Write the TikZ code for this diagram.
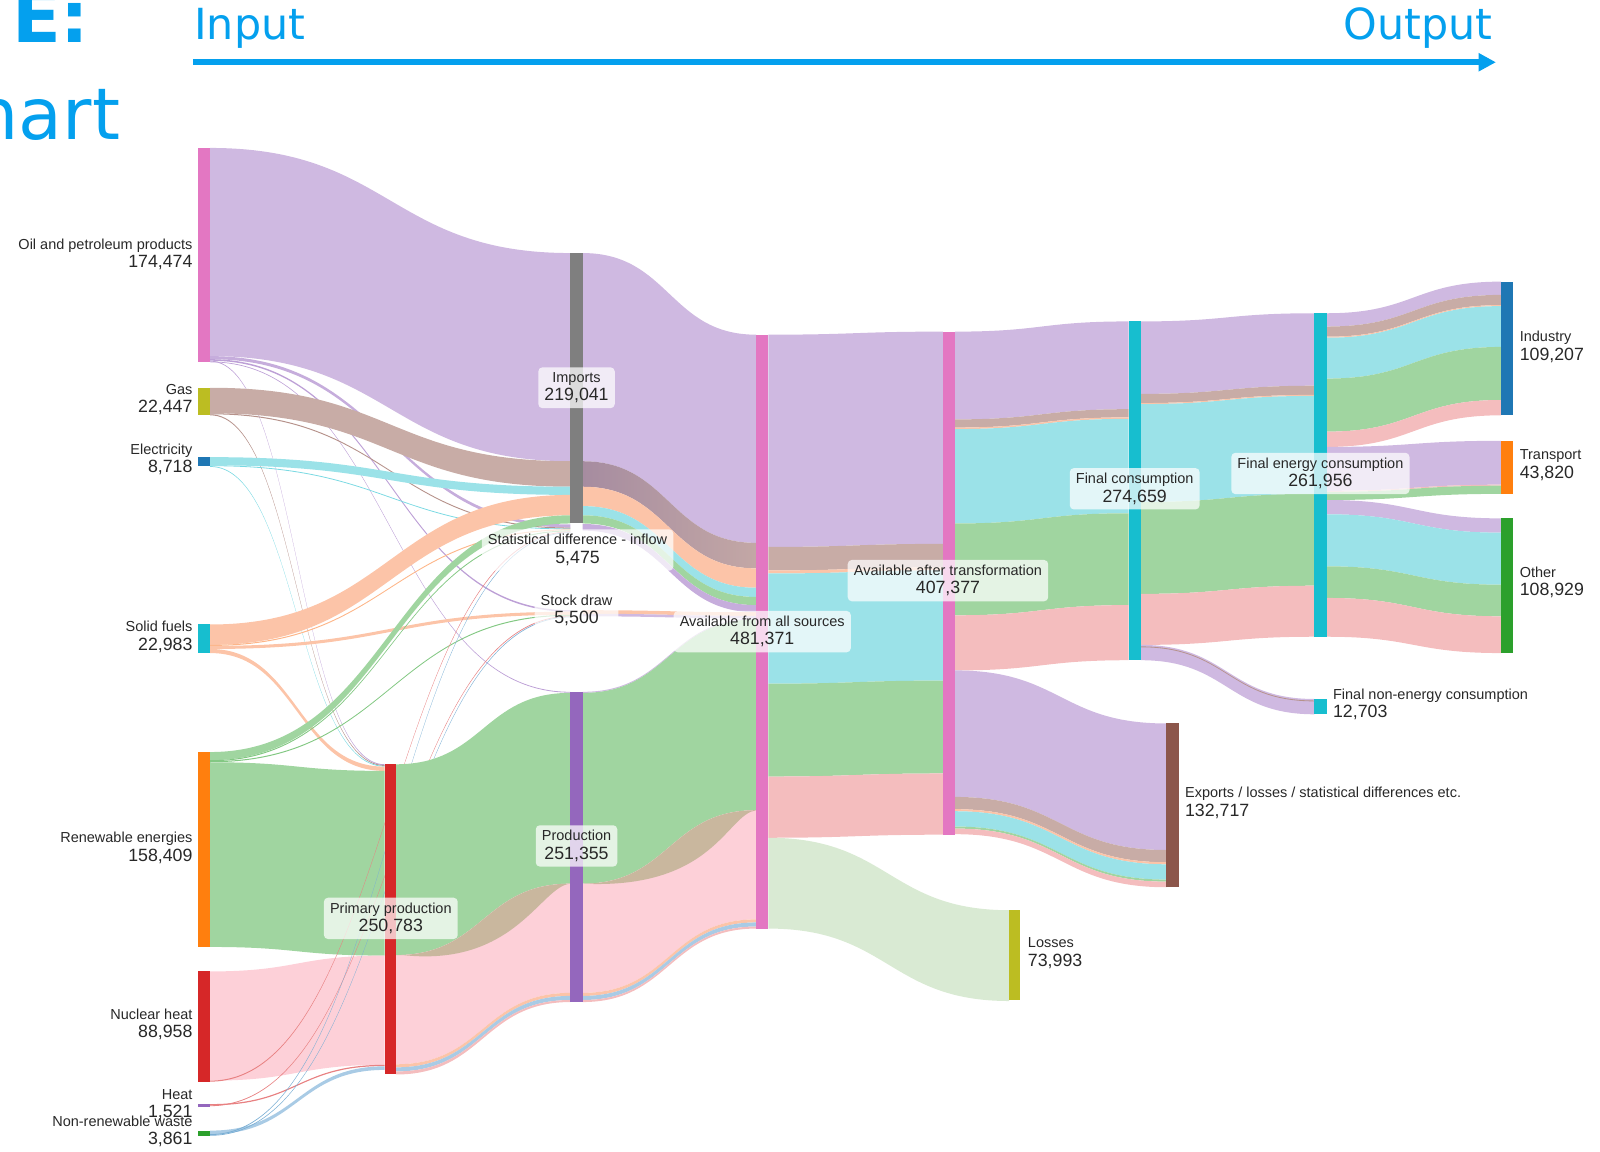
\documentclass[tikz,border=0pt]{standalone}
\usepackage{fontspec}
\setmainfont{Liberation Sans}
\newfontfamily\hdrfont{DejaVu Sans}
\usetikzlibrary{arrows.meta}
\definecolor{cOil}{RGB}{207,185,225}
\definecolor{cGas}{RGB}{200,172,166}
\definecolor{cElec}{RGB}{155,226,232}
\definecolor{cSolid}{RGB}{252,196,168}
\definecolor{cRen}{RGB}{160,213,160}
\definecolor{cNuc}{RGB}{253,208,216}
\definecolor{cHeat}{RGB}{244,189,190}
\definecolor{cWaste}{RGB}{169,203,229}
\definecolor{cLoss}{RGB}{217,234,211}
\definecolor{cTan}{RGB}{201,183,158}
\definecolor{cMauve}{RGB}{166,140,160}
\definecolor{nPink}{HTML}{E377C2}
\definecolor{nOlive}{HTML}{BCBD22}
\definecolor{nBlue}{HTML}{1F77B4}
\definecolor{nCyan}{HTML}{17BECF}
\definecolor{nOrange}{HTML}{FF7F0E}
\definecolor{nRed}{HTML}{D62728}
\definecolor{nPurple}{HTML}{9467BD}
\definecolor{nGreen}{HTML}{2CA02C}
\definecolor{nGray}{HTML}{7F7F7F}
\definecolor{nBrown}{HTML}{8C564B}
\definecolor{hdr}{RGB}{4,160,238}
\definecolor{txt}{RGB}{40,40,40}
\colorlet{tOil}{cOil!70!nPurple}
\colorlet{tGas}{cGas!70!nBrown}
\colorlet{tElec}{cElec!75!nCyan}
\colorlet{tSolid}{cSolid!80!nOrange}
\colorlet{tRen}{cRen!75!nGreen}
\colorlet{tHeat}{cHeat!60!nRed}
\colorlet{tWaste}{cWaste!65!nBlue}
% link: x1, y1top, y1bot, x2, y2top, y2bot, colour
\newcommand\lnkpath[6]{(#1,#2) .. controls ({(#1+#4)/2},#2) and ({(#1+#4)/2},#5) .. (#4,#5) -- (#4,#6) .. controls ({(#1+#4)/2},#6) and ({(#1+#4)/2},#3) .. (#1,#3) -- cycle}
\newcommand\lnk[7]{\fill[#7] \lnkpath{#1}{#2}{#3}{#4}{#5}{#6};}
\newcommand\nv[1]{{\fontsize{8.7}{9}\selectfont #1}}
\begin{document}
\begin{tikzpicture}[x=0.5pt,y=-0.5pt,
  lab/.style={inner sep=0pt, font=\fontsize{7.1}{9}\selectfont, text=txt},
  llab/.style={lab, anchor=east, align=right},
  rlab/.style={lab, anchor=west, align=left},
  boxl/.style={lab, align=center, fill=white, fill opacity=0.72, text opacity=1, rounded corners=2pt, inner xsep=3pt, inner ysep=2.5pt},
  bigt/.style={inner sep=0pt, text=hdr, font=\hdrfont\fontsize{35}{40}\selectfont},
  hdrt/.style={inner sep=0pt, text=hdr, font=\hdrfont\fontsize{21}{24}\selectfont}]
\path[use as bounding box] (0,0) rectangle (1568,1128);

% ---------- title fragments and header ----------
\begin{scope}
\clip (0,0) rectangle (1568,1128);
\node[bigt, anchor=base east, font=\hdrfont\bfseries\fontsize{35}{40}\selectfont] (ttl1) at (88,42) {E:};
\node[bigt, anchor=base east] (ttl2) at (118,137) {hart};
\end{scope}
\node[hdrt, anchor=base west] (inp) at (190,39) {Input};
\node[hdrt, anchor=base east] (outp) at (1463,39) {Output};
\coordinate (arrS) at (189,61);
\coordinate (arrE) at (1466,61);
\draw[hdr, line width=2.9pt, -{Triangle[length=8.5pt,width=8.5pt]}] (arrS) -- (arrE);

% ---------- column 1 -> column 2/3 ----------
% oil
\lnk{206}{145}{349}{559}{248}{452}{cOil}
\lnk{206}{349}{352}{559}{514}{517}{cOil!85!nPurple}
\lnk{206}{352}{353.5}{559}{598}{599.5}{tOil}
\lnk{206}{353.5}{354.3}{377}{749}{749.8}{tOil}
\lnk{206}{354.3}{355}{559}{678}{678.8}{tOil}
% gas
\lnk{206}{380}{405}{559}{452}{477}{cGas}
\lnk{206}{405}{406}{559}{517}{518}{tGas}
\lnk{206}{406}{407}{377}{749.8}{750.6}{tGas}
% electricity
\lnk{206}{448}{456}{559}{477}{485}{cElec}
\lnk{206}{456}{456.8}{559}{518}{518.8}{tElec}
\lnk{206}{456.8}{457.5}{377}{750.6}{751.3}{tElec}
% solid fuels
\lnk{206}{612}{632}{559}{485}{505}{cSolid}
\lnk{206}{632}{633}{559}{518.8}{519.8}{tSolid}
\lnk{206}{633}{636}{559}{599.5}{602.5}{cSolid}
\lnk{206}{636}{640}{377}{751.3}{755.5}{cSolid}
% renewables
\lnk{206}{737}{745}{559}{505}{513}{cRen}
\lnk{206}{745}{746}{559}{519.8}{520.8}{tRen}
\lnk{206}{746}{747}{559}{602.5}{603.5}{tRen}
\lnk{206}{747}{928}{377}{755.5}{936.5}{cRen}
% nuclear
\lnk{206}{952}{1059}{377}{936.5}{1043.5}{cNuc}
\lnk{206}{1059}{1060}{559}{520.8}{521.6}{tHeat}
% heat
\lnk{206}{1082}{1083.2}{377}{1043.5}{1044.7}{tHeat}
\lnk{206}{1083.2}{1084}{559}{603.5}{604.3}{tHeat}
% waste
\lnk{206}{1108}{1111.5}{377}{1045}{1048.5}{cWaste}
\lnk{206}{1111.5}{1112.3}{559}{521.6}{522.3}{tWaste}
\lnk{206}{1112.3}{1113}{559}{604.3}{605}{tWaste}

% ---------- primary production -> production ----------
\lnk{388}{749}{936}{559}{679}{866}{cRen}
\lnk{388}{936}{1043}{559}{866}{973}{cNuc}
\lnk{388}{1043}{1046}{559}{973}{976}{cSolid}
\lnk{388}{1046}{1050}{559}{976}{980}{cWaste}
\lnk{388}{1050}{1053}{559}{980}{982}{cHeat}
\fill[cTan] (388,936) .. controls (473.5,936) and (473.5,866) .. (559,866)
  .. controls (530,868) and (505,948) .. (395,936) -- cycle;

% ---------- column 3 -> available from all sources ----------
\lnk{571}{248}{452}{741}{328}{532}{cOil}
\shade[left color=cMauve, right color=cGas!85!cMauve] \lnkpath{571}{452}{477}{741}{532}{557};
\lnk{571}{477}{496}{741}{557}{576}{cSolid}
\lnk{571}{496}{505}{741}{576}{585}{cElec}
\lnk{571}{505}{513}{741}{585}{593}{cRen}
\lnk{571}{513.5}{520}{741}{593}{600}{cOil!85!nPurple}
\lnk{571}{598}{601.5}{741}{600}{603.5}{cSolid}
\lnk{571}{601.5}{604}{741}{603.5}{606}{cOil}
\lnk{571}{678}{679}{741}{606}{607}{cOil}
\lnk{571}{679}{866}{741}{607}{794}{cRen}
\lnk{571}{866}{973}{741}{794}{901}{cNuc}
\lnk{571}{973}{976}{741}{901}{904}{cSolid}
\lnk{571}{976}{980}{741}{904}{908}{cWaste}
\lnk{571}{980}{982}{741}{908}{910}{cHeat}
\fill[cTan] (571,866) .. controls (656,866) and (656,794) .. (741,794)
  .. controls (712,798) and (700,872) .. (571,866) -- cycle;

% ---------- available -> after transformation / losses ----------
\lnk{753}{328}{536}{924}{325}{533}{cOil}
\lnk{753}{536}{559}{924}{533}{556}{cGas}
\lnk{753}{559}{562}{924}{556}{559}{cSolid}
\lnk{753}{562}{670}{924}{559}{667}{cElec}
\lnk{753}{670}{761}{924}{667}{758}{cRen}
\lnk{753}{761}{821}{924}{758}{818}{cHeat}
\lnk{753}{821}{910}{989}{892}{981}{cLoss}

% ---------- after transformation -> final consumption / exports ----------
\lnk{936}{325}{411}{1106}{315}{401}{cOil}
\lnk{936}{411}{419}{1106}{401}{409}{cGas}
\lnk{936}{419}{420.5}{1106}{409}{410.5}{cSolid}
\lnk{936}{420.5}{513}{1106}{410.5}{503}{cElec}
\lnk{936}{513}{603}{1106}{503}{593}{cRen}
\lnk{936}{603}{657}{1106}{593}{647}{cHeat}
\lnk{936}{657}{781}{1143}{709}{833}{cOil}
\lnk{936}{781}{793}{1143}{833}{845}{cGas}
\lnk{936}{793}{795}{1143}{845}{847}{cSolid}
\lnk{936}{795}{810}{1143}{847}{862}{cElec}
\lnk{936}{810}{812}{1143}{862}{864}{cRen}
\lnk{936}{812}{817.5}{1143}{864}{869.5}{cHeat}

% ---------- final consumption -> final energy / non-energy ----------
\lnk{1118}{315}{386}{1288}{307}{378}{cOil}
\lnk{1118}{386}{395}{1288}{378}{387}{cGas}
\lnk{1118}{395}{396}{1288}{387}{388}{cSolid}
\lnk{1118}{396}{492}{1288}{388}{484}{cElec}
\lnk{1118}{492}{582}{1288}{484}{574}{cRen}
\lnk{1118}{582}{632}{1288}{574}{624}{cHeat}
\lnk{1118}{632}{647}{1288}{685}{700}{cOil}
\lnk{1118}{633.5}{634.3}{1288}{686.5}{687.3}{tGas}

% ---------- final energy -> sectors ----------
\lnk{1300}{307}{320}{1471}{276}{289}{cOil}
\lnk{1300}{320}{330}{1471}{289}{299}{cGas}
\lnk{1300}{330}{331}{1471}{299}{300}{cSolid}
\lnk{1300}{331}{371}{1471}{300}{340}{cElec}
\lnk{1300}{371}{423}{1471}{340}{392}{cRen}
\lnk{1300}{423}{438}{1471}{392}{407}{cHeat}
\lnk{1300}{438}{481}{1471}{432}{475}{cOil}
\lnk{1300}{481}{482}{1471}{475}{476}{cHeat}
\lnk{1300}{482}{490}{1471}{476}{484}{cRen}
\lnk{1300}{490}{504}{1471}{508}{522}{cOil}
\lnk{1300}{504}{555}{1471}{522}{573}{cElec}
\lnk{1300}{555}{586}{1471}{573}{604}{cRen}
\lnk{1300}{586}{624}{1471}{604}{640}{cHeat}

% ---------- node bars ----------
\fill[nPink]   (194,145) rectangle (206,355);
\fill[nOlive]  (194,380) rectangle (206,407);
\fill[nBlue]   (194,448) rectangle (206,457);
\fill[nCyan]   (194,612) rectangle (206,640);
\fill[nOrange] (194,737) rectangle (206,928);
\fill[nRed]    (194,952) rectangle (206,1060);
\fill[nPurple] (194,1082) rectangle (206,1084.5);
\fill[nGreen]  (194,1108) rectangle (206,1113);
\fill[nRed]    (377,749) rectangle (388,1053);
\fill[nGray]   (559,248) rectangle (571,513);
\fill[nPurple] (559,678) rectangle (571,982);
\fill[nPink]   (741,328) rectangle (753,910);
\fill[nPink]   (924,325) rectangle (936,818);
\fill[nOlive]  (989,892) rectangle (1000,980);
\fill[nCyan]   (1106,315) rectangle (1118,647);
\fill[nBrown]  (1143,709) rectangle (1155,869);
\fill[nCyan]   (1288,307) rectangle (1300,624);
\fill[nCyan]   (1288,685) rectangle (1300,700);
\fill[nBlue]   (1471,276) rectangle (1483,407);
\fill[nOrange] (1471,432) rectangle (1483,484);
\fill[nGreen]  (1471,508) rectangle (1483,640);

% ---------- labels ----------
\node[llab] (Loil) at (189,249) {Oil and petroleum products\\\nv{174,474}};
\node[llab] (Lgas) at (189,391.5) {Gas\\\nv{22,447}};
\node[llab] (Lele) at (189,450.5) {Electricity\\\nv{8,718}};
\node[llab] (Lsol) at (189,624) {Solid fuels\\\nv{22,983}};
\node[llab] (Lren) at (189,831) {Renewable energies\\\nv{158,409}};
\node[llab] (Lnuc) at (189,1004) {Nuclear heat\\\nv{88,958}};
\node[llab] (Lwas) at (189,1109) {Non-renewable waste\\\nv{3,861}};
\node[llab] (Lhea) at (189,1082.5) {Heat\\\nv{1,521}};

\node[boxl] (Limp) at (565,380) {Imports\\\nv{219,041}};
\node[boxl] (Lsta) at (566,539) {Statistical difference - inflow\\\nv{5,475}};
\node[boxl] (Lsto) at (565,598) {Stock draw\\\nv{5,500}};
\node[boxl] (Lpro) at (565,829) {Production\\\nv{251,355}};
\node[boxl] (Lpri) at (383,900) {Primary production\\\nv{250,783}};
\node[boxl] (Lava) at (747,619) {Available from all sources\\\nv{481,371}};
\node[boxl] (Laft) at (929,569) {Available after transformation\\\nv{407,377}};
\node[boxl] (Lfco) at (1112,479) {Final consumption\\\nv{274,659}};
\node[boxl] (Lfen) at (1294,464) {Final energy consumption\\\nv{261,956}};

\node[rlab] (Llos) at (1007,934) {Losses\\\nv{73,993}};
\node[rlab] (Lexp) at (1161,787) {Exports / losses / statistical differences etc.\\\nv{132,717}};
\node[rlab] (Lnon) at (1306,690) {Final non-energy consumption\\\nv{12,703}};
\node[rlab] (Lind) at (1489,340) {Industry\\\nv{109,207}};
\node[rlab] (Ltra) at (1489,456) {Transport\\\nv{43,820}};
\node[rlab] (Loth) at (1489,571) {Other\\\nv{108,929}};
\end{tikzpicture}
\end{document}
